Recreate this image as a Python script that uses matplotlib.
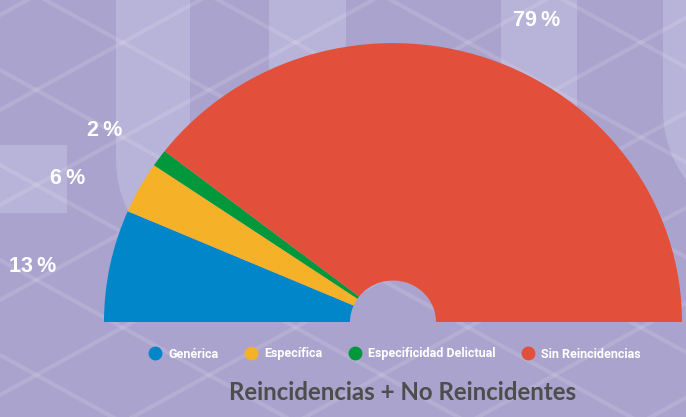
import numpy as np
import matplotlib
matplotlib.use("Agg")
import matplotlib.pyplot as plt
from matplotlib.patches import Rectangle
from matplotlib.lines import Line2D

categories = ['Genérica', 'Específica', 'Especificidad Delictual', 'Sin Reincidencias']
values = [13, 6, 2, 79]
labels = ['13\u2009%', '6\u2009%', '2\u2009%', '79\u2009%']
colors = ['#0086C9', '#F5B228', '#00983A', '#E2503B']

BG = '#A9A3CD'
LIGHT = '#B8B3D8'

fig = plt.figure(figsize=(6.86, 4.17), dpi=100)
fig.patch.set_facecolor(BG)

# background decoration, pixel coords (y down)
bg = fig.add_axes([0, 0, 1, 1])
bg.set_xlim(0, 686)
bg.set_ylim(417, 0)
bg.axis('off')


def u_shape(x0, x1, ytop, yarc):
    cx = (x0 + x1) / 2
    r = (x1 - x0) / 2
    t = np.linspace(np.pi, 0, 60)
    xs = [x0] + list(cx + r * np.cos(t)) + [x1]
    ys = [ytop] + list(yarc + r * np.sin(t)) + [ytop]
    return np.column_stack([xs, ys])


outer = u_shape(116, 346, -5, 160)
inner = u_shape(190, 269, -5, 160)
bg.fill(outer[:, 0], outer[:, 1], color=LIGHT, lw=0, zorder=1)
bg.fill(inner[:, 0], inner[:, 1], color=BG, lw=0, zorder=2)
right = u_shape(663, 899, -5, 110)
bg.fill(right[:, 0], right[:, 1], color=LIGHT, lw=0, zorder=1)
bg.add_patch(Rectangle((501, -5), 76, 320, color=LIGHT, lw=0, zorder=1))
bg.add_patch(Rectangle((0, 145), 67, 68, color=LIGHT, lw=0, zorder=2))

xx = np.array([-50, 740])
for c in np.arange(-500, 900, 95):
    bg.plot(xx, 0.55 * xx + c, color='white', alpha=0.13, lw=3, zorder=3)
    bg.plot(xx, -0.55 * xx + c + 40, color='white', alpha=0.13, lw=3, zorder=3)

# half donut
ax = fig.add_axes([0, 0, 1, 1])
ax.patch.set_alpha(0)
R = 289
hole = 43
ax.pie(values + [sum(values)], colors=colors + ['none'], startangle=180,
       counterclock=False, radius=R, center=(393, (417 - 322) / 0.965),
       wedgeprops=dict(width=R - hole, linewidth=0), frame=True)
ax.set_xlim(0, 686)
ax.set_ylim(0, 417 / 0.965)
ax.set_aspect('auto')
ax.axis('off')

# value labels
lab_pos = [(33, 267), (68, 178), (105, 131), (537, 20)]
for (x, y), t in zip(lab_pos, labels):
    bg.text(x, y, t, color='white', fontsize=15.5, fontweight='bold',
            family=['Liberation Sans', 'DejaVu Sans'], ha='center', va='center', zorder=10)

handles = [Line2D([], [], marker='o', ls='', markersize=10, markerfacecolor=c,
                  markeredgewidth=0) for c in colors]
leg = fig.legend(handles, categories, loc='center', bbox_to_anchor=(394 / 686, 1 - 354 / 417),
                 ncol=4, frameon=False, handletextpad=0.45, columnspacing=2.0, handlelength=1.2,
                 prop=dict(family=['Roboto', 'DejaVu Sans'], weight='bold', size=9))
for t in leg.get_texts():
    t.set_color('white')

bg.text(403, 392, 'Reincidencias + No Reincidentes', color='#4D4D4D', fontsize=17.3,
        fontweight='bold', family=['Lato', 'DejaVu Sans'], ha='center', va='center', zorder=10)

fig.savefig('out.png', dpi=100, facecolor=BG)
